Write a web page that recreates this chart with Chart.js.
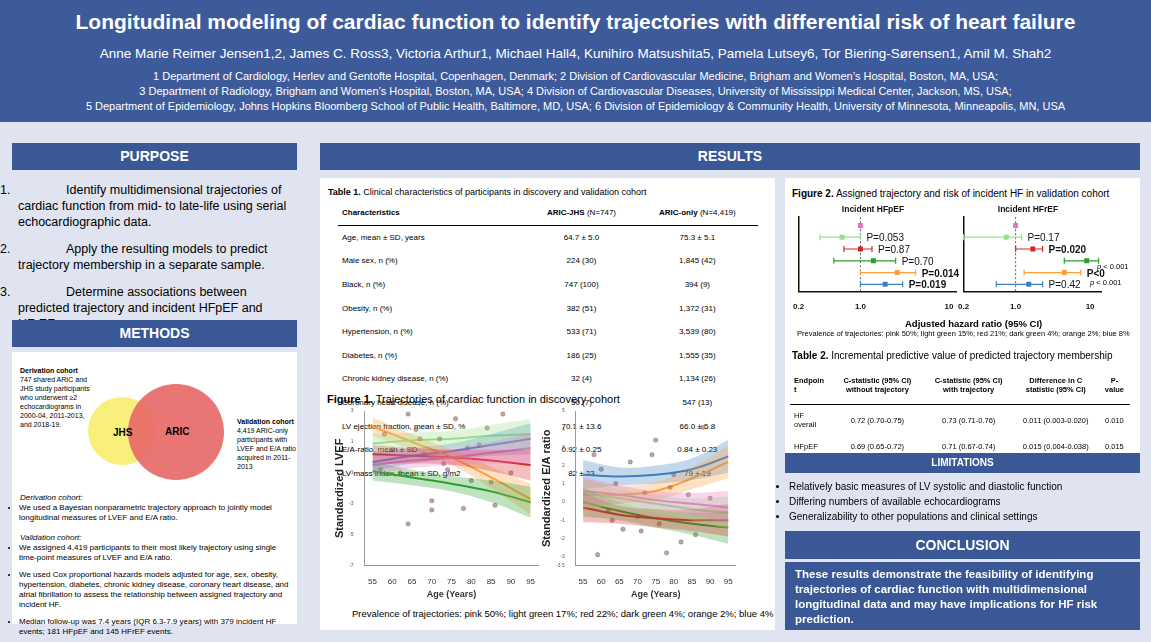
<!DOCTYPE html>
<html><head><meta charset="utf-8">
<script src="https://cdn.jsdelivr.net/npm/chart.js@4"></script>
<style>
body{margin:0;width:1151px;height:642px;background:#dfe4f0;font-family:"Liberation Sans",Arial,sans-serif;position:relative;overflow:hidden}
.a{position:absolute}
.hdr{background:#3a5896;color:#fff;font-weight:bold;text-align:center;font-size:14px;line-height:27px}
.w{background:#fff}
#top{left:0;top:0;width:1151px;height:122px;background:#3d5b9b;color:#fff;text-align:center}
#top h1{margin:10px 0 0;font-size:21px}
#top .au{font-size:13.5px;margin-top:12px}
#top .af{font-size:11px;margin-top:8px;line-height:15px}
table{border-collapse:collapse;font-size:8px}
td,th{padding:0 4px;height:23.6px;text-align:left}
.c{text-align:center}
ul{margin:0;padding-left:14px}
li{margin-bottom:7px}
.pp{position:relative;padding-left:18px;text-indent:48px;margin-bottom:11px}
.pp span{position:absolute;left:0;text-indent:0}
</style></head><body>
<div id="top" class="a"><h1>Longitudinal modeling of cardiac function to identify trajectories with differential risk of heart failure</h1>
<div class="au">Anne Marie Reimer Jensen1,2, James C. Ross3, Victoria Arthur1, Michael Hall4, Kunihiro Matsushita5, Pamela Lutsey6, Tor Biering-Sørensen1, Amil M. Shah2</div>
<div class="af">1 Department of Cardiology, Herlev and Gentofte Hospital, Copenhagen, Denmark; 2 Division of Cardiovascular Medicine, Brigham and Women’s Hospital, Boston, MA, USA;<br>3 Department of Radiology, Brigham and Women’s Hospital, Boston, MA, USA; 4 Division of Cardiovascular Diseases, University of Mississippi Medical Center, Jackson, MS, USA;<br>5 Department of Epidemiology, Johns Hopkins Bloomberg School of Public Health, Baltimore, MD, USA; 6 Division of Epidemiology &amp; Community Health, University of Minnesota, Minneapolis, MN, USA</div></div>

<div class="a hdr" style="left:12px;top:143px;width:285px">PURPOSE</div>
<div class="a" style="left:0;top:182px;width:290px;font-size:12.5px;line-height:16px">
<div class="pp"><span>1.</span>Identify multidimensional trajectories of cardiac function from mid- to late-life using serial echocardiographic data.</div>
<div class="pp"><span>2.</span>Apply the resulting models to predict trajectory membership in a separate sample.</div>
<div class="pp"><span>3.</span>Determine associations between predicted trajectory and incident HFpEF and HFrEF.</div></div>
<div class="a hdr" style="left:12px;top:320px;width:285px">METHODS</div>
<div class="a w" style="left:12px;top:352px;width:285px;height:272px"></div>
<div class="a" style="left:20px;top:366px;font-size:7px;width:78px;line-height:9px"><b>Derivation cohort</b><br>747 shared ARIC and JHS study participants who underwent ≥2 echocardiograms in 2000-04, 2011-2013, and 2018-19.</div>
<div class="a" style="left:88px;top:397px;width:68px;height:68px;border-radius:50%;background:#f8f07a"></div>
<div class="a" style="left:128px;top:384px;width:96px;height:96px;border-radius:50%;background:rgba(232,102,102,0.9)"></div>
<div class="a" style="left:113px;top:427px;font-size:10px;font-weight:bold">JHS</div>
<div class="a" style="left:165px;top:426px;font-size:10px;font-weight:bold">ARIC</div>
<div class="a" style="left:237px;top:417px;font-size:7px;width:62px;line-height:9px"><b>Validation cohort</b><br>4,419 ARIC-only participants with LVEF and E/A ratio acquired in 2011-2013</div>
<div class="a" style="left:5px;top:493px;font-size:8px;width:290px;line-height:10px">
<div style="padding-left:15px"><i>Derivation cohort:</i></div>
<ul><li>We used a Bayesian nonparametric trajectory approach to jointly model longitudinal measures of LVEF and E/A ratio.</li></ul>
<div style="padding-left:15px;margin-top:10px"><i>Validation cohort:</i></div>
<ul><li>We assigned 4,419 participants to their most likely trajectory using single time-point measures of LVEF and E/A ratio.</li>
<li>We used Cox proportional hazards models adjusted for age, sex, obesity, hypertension, diabetes, chronic kidney disease, coronary heart disease, and atrial fibrillation to assess the relationship between assigned trajectory and incident HF.</li>
<li>Median follow-up was 7.4 years (IQR 6.3-7.9 years) with 379 incident HF events; 181 HFpEF and 145 HFrEF events.</li></ul></div>

<div class="a hdr" style="left:320px;top:143px;width:820px">RESULTS</div>
<div class="a w" style="left:320px;top:178px;width:455px;height:452px"></div>
<div class="a" style="left:328px;top:187px;font-size:9px"><b>Table 1.</b> Clinical characteristics of participants in discovery and validation cohort</div>
<table class="a" style="left:338px;top:201px;width:420px">
<tr style="border-bottom:1.5px solid #000"><th style="height:22px">Characteristics</th><th class="c">ARIC-JHS <span style="font-weight:normal">(N=747)</span></th><th class="c">ARIC-only <span style="font-weight:normal">(N=4,419)</span></th></tr>
<tr><td>Age, mean ± SD, years</td><td class="c">64.7 ± 5.0</td><td class="c">75.3 ± 5.1</td></tr>
<tr><td>Male sex, n (%)</td><td class="c">224 (30)</td><td class="c">1,845 (42)</td></tr>
<tr><td>Black, n (%)</td><td class="c">747 (100)</td><td class="c">394 (9)</td></tr>
<tr><td>Obesity, n (%)</td><td class="c">382 (51)</td><td class="c">1,372 (31)</td></tr>
<tr><td>Hypertension, n (%)</td><td class="c">533 (71)</td><td class="c">3,539 (80)</td></tr>
<tr><td>Diabetes, n (%)</td><td class="c">186 (25)</td><td class="c">1,555 (35)</td></tr>
<tr><td>Chronic kidney disease, n (%)</td><td class="c">32 (4)</td><td class="c">1,134 (26)</td></tr>
<tr><td>Coronary heart disease, n (%)</td><td class="c">50 (7)</td><td class="c">547 (13)</td></tr>
<tr><td>LV ejection fraction, mean ± SD, %</td><td class="c">70.1 ± 13.6</td><td class="c">66.0 ± 5.8</td></tr>
<tr><td>E/A-ratio, mean ± SD</td><td class="c">0.92 ± 0.25</td><td class="c">0.84 ± 0.23</td></tr>
<tr><td>LV mass index, mean ± SD, g/m2</td><td class="c">82 ± 23</td><td class="c">79 ± 19</td></tr>
</table>
<div class="a" style="left:327px;top:393px;font-size:11px;background:transparent"><b>Figure 1.</b> Trajectories of cardiac function in discovery cohort</div>
<div class="a" style="left:333px;top:405px;width:210px;height:195px"><canvas id="c1"></canvas></div>
<div class="a" style="left:540px;top:405px;width:200px;height:195px"><canvas id="c2"></canvas></div>
<div class="a" style="left:352px;top:608px;font-size:9.5px">Prevalence of trajectories: pink 50%; light green 17%; red 22%; dark green 4%; orange 2%; blue 4%</div>

<div class="a w" style="left:785px;top:178px;width:355px;height:167px"></div>
<div class="a" style="left:792px;top:188px;font-size:10px"><b>Figure 2.</b> Assigned trajectory and risk of incident HF in validation cohort</div>
<div class="a" style="left:790px;top:203px;width:170px;height:112px"><canvas id="f1"></canvas></div>
<div class="a" style="left:955px;top:203px;width:150px;height:112px"><canvas id="f2"></canvas></div>
<div class="a" style="left:1097px;top:262px;font-size:7.5px"><i>p</i> &lt; 0.001</div>
<div class="a" style="left:1090px;top:278px;font-size:7.5px"><i>p</i> &lt; 0.001</div>
<div class="a" style="left:905px;top:318px;font-size:9.5px;font-weight:bold">Adjusted hazard ratio (95% CI)</div>
<div class="a" style="left:797px;top:329px;font-size:7.5px">Prevalence of trajectories: pink 50%; light green 15%; red 21%; dark green 4%; orange 2%; blue 8%</div>
<div class="a w" style="left:785px;top:345px;width:355px;height:108px"></div>
<div class="a" style="left:792px;top:350px;font-size:10px"><b>Table 2.</b> Incremental predictive value of predicted trajectory membership</div>
<table class="a" style="left:790px;top:366px;width:340px;font-size:7.5px">
<tr style="border-bottom:1.5px solid #000"><th style="height:38px">Endpoin<br>t</th><th class="c">C-statistic (95% CI) without trajectory</th><th class="c">C-statistic (95% CI) with trajectory</th><th class="c">Difference in C statistic (95% CI)</th><th class="c">P-value</th></tr>
<tr><td style="height:30px">HF overall</td><td class="c">0.72 (0.70-0.75)</td><td class="c">0.73 (0.71-0.76)</td><td class="c">0.011 (0.003-0.020)</td><td class="c">0.010</td></tr>
<tr><td>HFpEF</td><td class="c">0.69 (0.65-0.72)</td><td class="c">0.71 (0.67-0.74)</td><td class="c">0.015 (0.004-0.038)</td><td class="c">0.015</td></tr></table>
<div class="a hdr" style="left:785px;top:453px;width:355px;line-height:20px;font-size:10px">LIMITATIONS</div>
<div class="a" style="left:775px;top:479px;font-size:10px;line-height:15px"><ul>
<li style="margin:0">Relatively basic measures of LV systolic and diastolic function</li>
<li style="margin:0">Differing numbers of available echocardiograms</li>
<li style="margin:0">Generalizability to other populations and clinical settings</li></ul></div>
<div class="a hdr" style="left:785px;top:531px;width:355px;font-size:14px;line-height:28px">CONCLUSION</div>
<div class="a" style="left:785px;top:562px;height:68px;background:#3a5896;color:#fff;font-weight:bold;font-size:11.5px;line-height:15px;padding:5px 0 0 10px;box-sizing:border-box;width:355px">These results demonstrate the feasibility of identifying trajectories of cardiac function with multidimensional longitudinal data and may have implications for HF risk prediction.</div>

<script>
const ages=[55,65,75,85,95];
const colors={pink:'#e377c2',lgreen:'#98df8a',red:'#d62728',dgreen:'#2ca02c',orange:'#ff9f3a',blue:'#3d7fc1'};
const lvefMid={pink:[-0.5,-0.2,0.0,0.3,0.6],lgreen:[0.9,1.1,1.2,1.4,1.5],red:[0.2,0.1,0.0,-0.2,-0.5],dgreen:[-0.9,-1.3,-1.7,-2.2,-2.9],orange:[2.0,1.0,0.0,-1.3,-2.7],blue:[-0.3,0.1,0.4,0.8,1.2]};
const lvefBand=[0.6,0.5,0.5,0.7,1.0];
const eaMid={pink:[0.6,0.4,0.1,-0.1,-0.3],lgreen:[0.5,0.2,-0.1,-0.4,-0.6],red:[-0.3,-0.7,-0.9,-1.0,-1.0],dgreen:[0.0,-0.5,-0.9,-1.2,-1.4],orange:[0.4,0.4,0.6,1.3,2.2],blue:[1.5,1.4,1.5,1.8,2.5]};
const eaBand=[0.8,0.5,0.5,0.6,0.9];
const lvefPts=[[58,1.5],[60,0.5],[62,-1],[64,2.8],[66,1.8],[68,0.2],[70,-3.4],[72,1.2],[74,-0.8],[76,2.5],[78,-3.3],[80,-1.5],[82,0.8],[84,1.9],[86,-3.1],[88,2.8],[64,-4.3],[70,-2.8],[57,-0.8],[90,-1],[67,1.2],[73,-0.4],[79,0.6],[85,-1.6]];
const eaPts=[[58,2.6],[59,-2.9],[60,1.8],[62,-0.5],[64,1.0],[66,-1.5],[68,2.2],[70,-0.8],[72,0.5],[74,2.6],[76,-1.2],[78,-2.8],[80,1.5],[82,-2.2],[84,0.4],[86,-1.8],[88,4.1],[90,0.2],[75,3.4],[63,-1.0],[71,-1.6],[79,0.8]];
const hfpTraj=['pink','lgreen','red','dgreen','orange','blue'];
const hfpHR=[1.0,0.62,1.0,1.4,2.6,1.9];
const hfpLo=[1.0,0.35,0.65,0.5,1.0,1.0];
const hfpHi=[1.0,1.0,1.35,2.5,4.2,3.0];
const hfpP=['','P=0.053','P=0.87','P=0.70','P=0.014','P=0.019'];
const hfrHR=[1.0,0.75,1.7,9.0,4.5,1.5];
const hfrLo=[1.0,0.2,1.0,4.5,1.3,0.55];
const hfrHi=[1.0,1.2,2.3,13,7.5,2.3];
const hfrP=['','P=0.17','P=0.020','','P<0.001','P=0.42'];
const hexA=(h,a)=>{const n=parseInt(h.slice(1),16);return `rgba(${n>>16},${(n>>8)&255},${n&255},${a})`;};

function trajChart(id,mid,band,pts,title,ymin,ymax,ystep){
  const ds=[];
  Object.keys(mid).forEach(k=>{
    ds.push({data:ages.map((a,i)=>({x:a,y:mid[k][i]+band[i]})),borderWidth:0,pointRadius:0,fill:'+1',backgroundColor:hexA(colors[k],0.3),tension:0.4});
    ds.push({data:ages.map((a,i)=>({x:a,y:mid[k][i]-band[i]})),borderWidth:0,pointRadius:0,fill:false,tension:0.4});
  });
  ds.push({type:'scatter',data:pts.map(p=>({x:p[0],y:p[1]})),pointRadius:2.2,backgroundColor:'rgba(140,90,90,0.55)',borderColor:'rgba(90,60,60,0.6)',borderWidth:0.5});
  Object.keys(mid).forEach(k=>ds.push({data:ages.map((a,i)=>({x:a,y:mid[k][i]})),borderColor:colors[k],borderWidth:2,pointRadius:0,fill:false,tension:0.4}));
  new Chart(document.getElementById(id),{type:'line',data:{datasets:ds},options:{animation:false,responsive:true,maintainAspectRatio:false,
    plugins:{legend:{display:false},tooltip:{enabled:false}},
    scales:{x:{type:'linear',min:53,max:97,afterBuildTicks:s=>{s.ticks=[55,60,65,70,75,80,85,90,95].map(v=>({value:v}))},grid:{display:false},border:{color:'#999'},ticks:{font:{size:8},color:'#333'},title:{display:true,text:'Age (Years)',font:{size:9,weight:'bold'},color:'#333',padding:0}},
      y:{min:ymin,max:ymax,grid:{display:false},border:{color:'#999'},ticks:{stepSize:ystep,font:{size:5},color:'#555'},title:{display:true,text:title,font:{size:11,weight:'bold'},color:'#222',padding:0}}}}});
}
trajChart('c1',lvefMid,lvefBand,lvefPts,'Standardized LVEF',-7,3,2);
trajChart('c2',eaMid,eaBand,eaPts,'Standardized E/A ratio',-3.5,5,1);

const whisk={id:'w',afterDatasetsDraw(ch){const o=ch.options.plugins.w;const c=ch.ctx,x=ch.scales.x,y=ch.scales.y;
  c.save();
  c.setLineDash([2,2]);c.strokeStyle='#333';c.lineWidth=0.8;c.beginPath();c.moveTo(x.getPixelForValue(1),y.top);c.lineTo(x.getPixelForValue(1),y.bottom);c.stroke();c.setLineDash([]);
  o.hr.forEach((v,i)=>{const yy=y.getPixelForValue(i+1);const col=colors[hfpTraj[i]];c.strokeStyle=col;c.lineWidth=1.2;
    const a=x.getPixelForValue(o.lo[i]),b=x.getPixelForValue(o.hi[i]);c.beginPath();c.moveTo(a,yy);c.lineTo(b,yy);c.moveTo(a,yy-3);c.lineTo(a,yy+3);c.moveTo(b,yy-3);c.lineTo(b,yy+3);c.stroke();
    if(o.p[i]){c.fillStyle='#111';c.font=(o.p[i].includes('0.01')||o.p[i].includes('0.02')||o.p[i].includes('<')?'bold ':'')+'10px "Liberation Sans"';c.fillText(o.p[i],b+6,yy+4);}
  });c.restore();}};
function forest(id,hr,lo,hi,p,title,xmax){
  new Chart(document.getElementById(id),{type:'scatter',plugins:[whisk],data:{datasets:[{data:hr.map((v,i)=>({x:v,y:i+1})),pointRadius:3.5,pointStyle:'rect',backgroundColor:hfpTraj.map(k=>colors[k]),borderWidth:0}]},
    options:{animation:false,responsive:true,maintainAspectRatio:false,layout:{padding:{right:4}},
      plugins:{legend:{display:false},tooltip:{enabled:false},w:{hr,lo,hi,p},title:{display:true,text:title,font:{size:8.5,weight:'bold'},color:'#111',padding:2}},
      scales:{x:{type:'logarithmic',min:0.2,max:xmax,afterBuildTicks:s=>{s.ticks=[0.2,1,10].map(v=>({value:v}))},ticks:{callback:v=>v==1?'1.0':(v==10?'10':'0.2'),font:{size:8,weight:'bold'},color:'#111'},grid:{display:false},border:{color:'#111',width:1.5}},
        y:{reverse:true,min:0.3,max:6.6,afterBuildTicks:s=>{s.ticks=[1,2,3,4,5,6].map(v=>({value:v}))},ticks:{display:false},grid:{display:false,drawTicks:true},border:{color:'#111',width:1.5}}}}});
}
forest('f1',hfpHR,hfpLo,hfpHi,hfpP,'Incident HFpEF',12);
forest('f2',hfrHR,hfrLo,hfrHi,hfrP,'Incident HFrEF',14);
</script></body></html>
